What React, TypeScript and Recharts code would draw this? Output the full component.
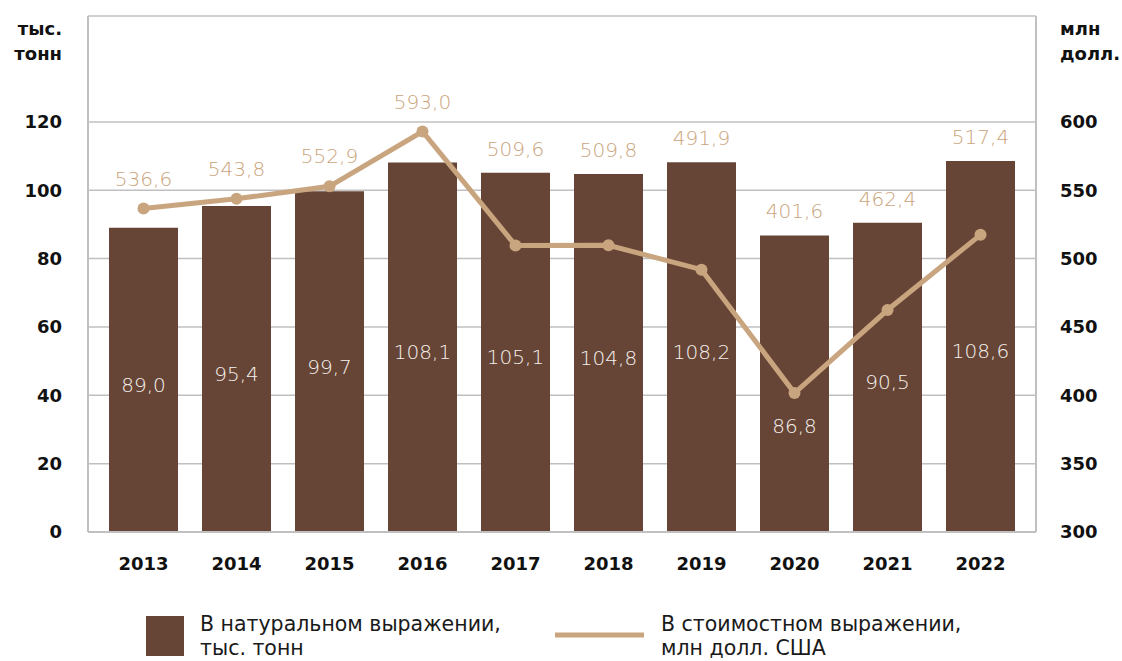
import React from 'react';
import { ComposedChart, Bar, Line, XAxis, YAxis, CartesianGrid, LabelList } from 'recharts';

const years = ['2013', '2014', '2015', '2016', '2017', '2018', '2019', '2020', '2021', '2022'];
const volume = [89.0, 95.4, 99.7, 108.1, 105.1, 104.8, 108.2, 86.8, 90.5, 108.6];
const valueUsd = [536.6, 543.8, 552.9, 593.0, 509.6, 509.8, 491.9, 401.6, 462.4, 517.4];
const leftTicks = [0, 20, 40, 60, 80, 100, 120];
const rightTicks = [300, 350, 400, 450, 500, 550, 600];
const leftUnit = ['тыс.', 'тонн'];
const rightUnit = ['млн', 'долл.'];
const legendBar = ['В натуральном выражении,', 'тыс. тонн'];
const legendLine = ['В стоимостном выражении,', 'млн долл. США'];

const data = years.map((y, i) => ({ year: y, volume: volume[i], value: valueUsd[i] }));

const W = 1122;
const H = 661;
const LEFT_DOMAIN: [number, number] = [0, 151];
const RIGHT_DOMAIN: [number, number] = [300, 677.5];
const MARGIN = { top: 16, right: 26, bottom: 89, left: 28 };
const X_AXIS_H = 40;
const PLOT_TOP = MARGIN.top;
const PLOT_BOTTOM = H - MARGIN.bottom - X_AXIS_H;
const PLOT_H = PLOT_BOTTOM - PLOT_TOP;

const BAR_COLOR = '#674536';
const LINE_COLOR = '#c9a57f';
const LABEL_TAN = '#c9a47c';
const GRID = '#c0c0c0';
const FONT = '"DejaVu Sans", sans-serif';

const fmt = (v: number) => v.toFixed(1).replace('.', ',');

const barTopY = (v: number) =>
  PLOT_BOTTOM - ((v - LEFT_DOMAIN[0]) / (LEFT_DOMAIN[1] - LEFT_DOMAIN[0])) * PLOT_H;

const BarLabel = (props: any) => {
  const { x, y, width, height, index } = props;
  const extra = index === 7 ? 42 : 5;
  const cy = Number(y) + Number(height) / 2 + extra;
  return (
    <text
      x={Number(x) + Number(width) / 2}
      y={cy}
      textAnchor="middle"
      dominantBaseline="central"
      fill="#f5f1ed"
      fontSize={20}
      fontFamily={FONT}
      fontWeight={300}
    >
      {fmt(volume[index])}
    </text>
  );
};

const LineLabel = (props: any) => {
  const { x, y, index } = props;
  const top = barTopY(volume[index]);
  const cy = Math.min(Number(y) - 30, top - 24);
  return (
    <text
      x={Number(x)}
      y={cy}
      textAnchor="middle"
      dominantBaseline="central"
      fill={LABEL_TAN}
      fontSize={20}
      fontFamily={FONT}
      fontWeight={300}
    >
      {fmt(valueUsd[index])}
    </text>
  );
};

const tickStyle = { fill: '#111', fontSize: 18, fontWeight: 700, fontFamily: FONT };

export default function App() {
  return (
    <div style={{ position: 'absolute', left: 0, top: 0, width: W, height: H, background: '#fff' }}>
      <ComposedChart width={W} height={H} data={data} margin={MARGIN}>
        <CartesianGrid vertical={false} stroke={GRID} strokeWidth={1.5} yAxisId="left" />
        <XAxis
          dataKey="year"
          height={X_AXIS_H}
          padding={{ left: 9, right: 9 }}
          axisLine={{ stroke: GRID, strokeWidth: 2 }}
          tickLine={false}
          tickSize={0}
          tickMargin={25}
          tick={tickStyle}
          interval={0}
        />
        <YAxis
          yAxisId="left"
          orientation="left"
          width={60}
          domain={LEFT_DOMAIN}
          ticks={leftTicks}
          axisLine={{ stroke: GRID, strokeWidth: 2 }}
          tickLine={false}
          tickSize={0}
          tickMargin={26}
          tick={tickStyle}
          allowDataOverflow
        />
        <YAxis
          yAxisId="right"
          orientation="right"
          width={60}
          domain={RIGHT_DOMAIN}
          ticks={rightTicks}
          axisLine={{ stroke: GRID, strokeWidth: 2 }}
          tickLine={false}
          tickSize={0}
          tickMargin={24}
          tick={tickStyle}
          allowDataOverflow
        />
        <Bar yAxisId="left" dataKey="volume" fill={BAR_COLOR} barSize={69} isAnimationActive={false}>
          <LabelList dataKey="volume" content={BarLabel} />
        </Bar>
        <Line
          yAxisId="right"
          dataKey="value"
          stroke={LINE_COLOR}
          strokeWidth={5}
          dot={{ r: 6, fill: LINE_COLOR, stroke: LINE_COLOR, strokeWidth: 0 }}
          activeDot={false}
          isAnimationActive={false}
        >
          <LabelList dataKey="value" content={LineLabel} />
        </Line>
      </ComposedChart>
      <svg
        width={W}
        height={H}
        style={{ position: 'absolute', left: 0, top: 0, pointerEvents: 'none' }}
      >
        <g fontFamily={FONT} fontWeight={700} fontSize={18} fill="#111">
          <text x={62} y={35} textAnchor="end">{leftUnit[0]}</text>
          <text x={62} y={60} textAnchor="end">{leftUnit[1]}</text>
          <text x={1060} y={35} textAnchor="start">{rightUnit[0]}</text>
          <text x={1060} y={60} textAnchor="start">{rightUnit[1]}</text>
        </g>
        <rect x={146} y={616} width={38} height={40} fill={BAR_COLOR} />
        <line x1={555} y1={635} x2={644} y2={635} stroke={LINE_COLOR} strokeWidth={5} />
        <g fontFamily={FONT} fontSize={20.5} fill="#1a1a1a">
          <text x={200} y={631}>{legendBar[0]}</text>
          <text x={200} y={655}>{legendBar[1]}</text>
          <text x={661} y={631}>{legendLine[0]}</text>
          <text x={661} y={655}>{legendLine[1]}</text>
        </g>
      </svg>
    </div>
  );
}
